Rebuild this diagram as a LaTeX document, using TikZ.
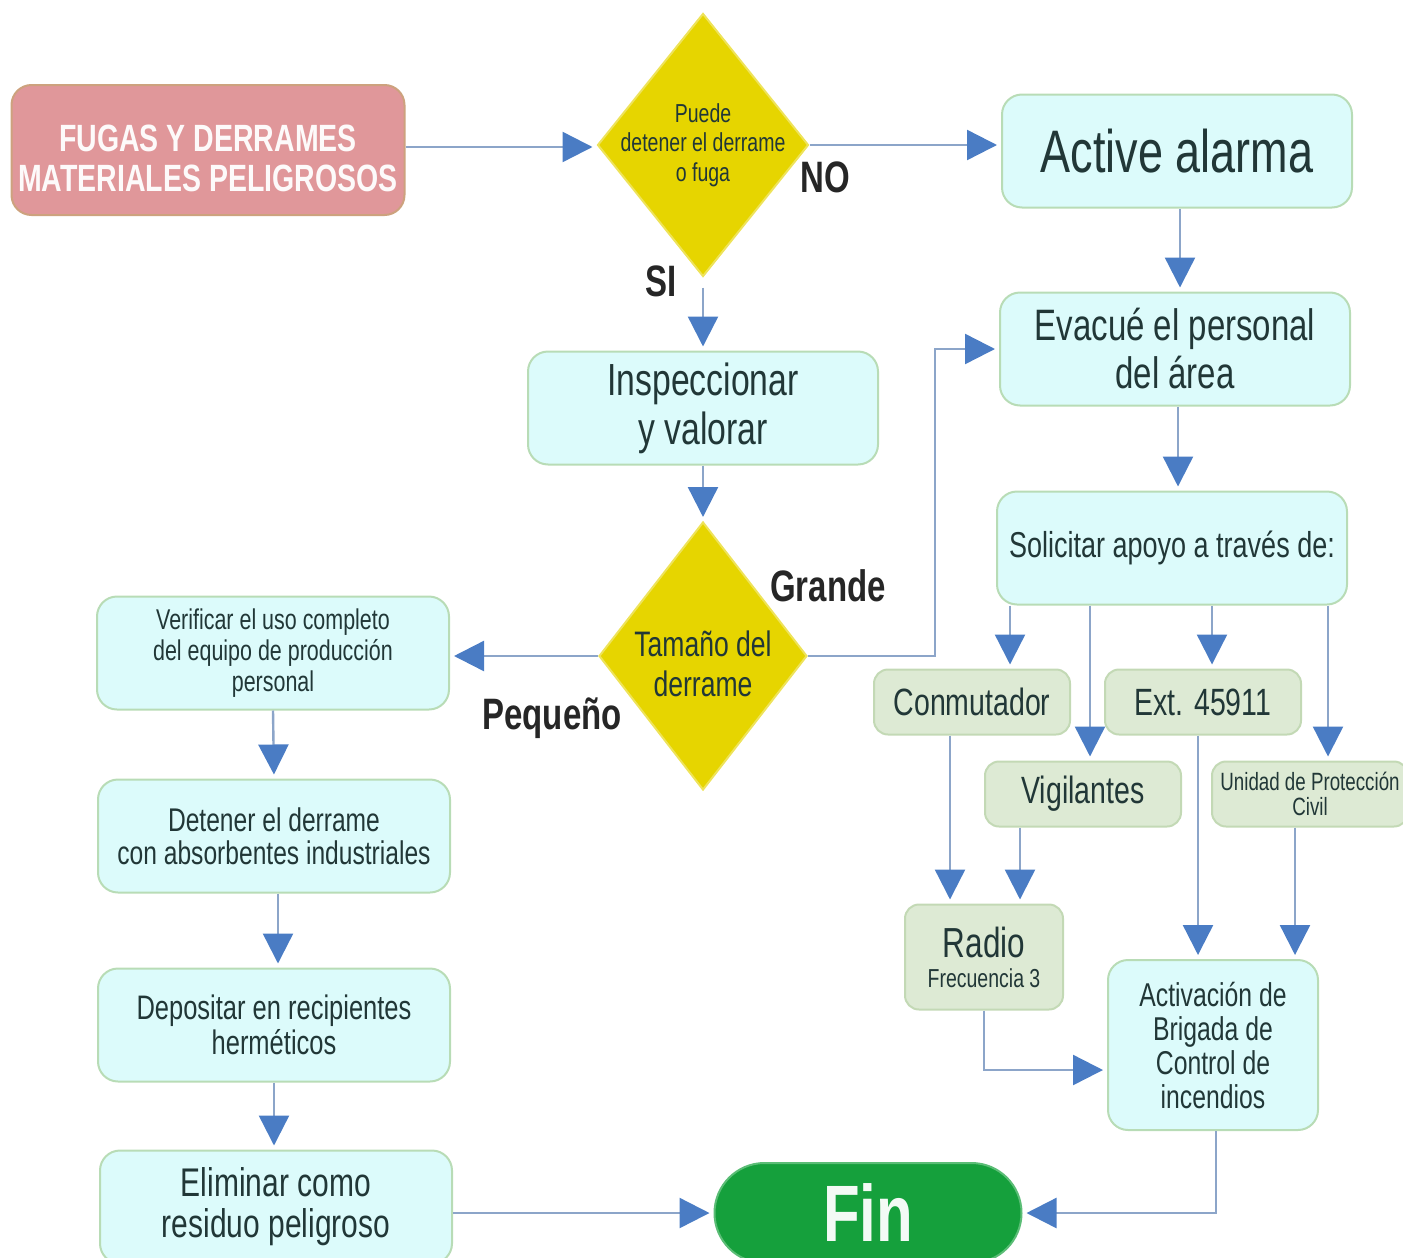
\documentclass[tikz,border=0pt]{standalone}
\usepackage{fontspec}
\setmainfont{Liberation Sans}[FakeStretch=0.75]
\usepackage{xcolor}
\usepackage{tikz}
\usetikzlibrary{shapes.geometric}
\usetikzlibrary{arrows.meta}

\definecolor{fondoAzul}{HTML}{DCFBFB}
\definecolor{bordeAzul}{HTML}{B8DCB6}
\definecolor{fondoVerde}{HTML}{DDEAD4}
\definecolor{bordeVerde}{HTML}{C3D9B5}
\definecolor{amarillo}{HTML}{E6D500}
\definecolor{bordeAmarillo}{HTML}{EEE35A}
\definecolor{rosa}{HTML}{E0979A}
\definecolor{bordeRosa}{HTML}{CDA27E}
\definecolor{verdeFin}{HTML}{15A03C}
\definecolor{linea}{HTML}{8CA5C9}
\definecolor{punta}{HTML}{4A7CC4}
\definecolor{texto}{HTML}{213737}

\newcommand{\tf}[2]{\fontsize{#1}{#2}\selectfont}

\tikzset{
  Caja/.style={draw=bordeAzul, fill=fondoAzul, line width=1pt, rounded corners=10pt,
    minimum width=175pt, minimum height=56.5pt, align=center, text=texto, inner sep=0pt},
  CajaV/.style={Caja, draw=bordeVerde, fill=fondoVerde, rounded corners=7pt,
    minimum width=98pt, minimum height=32.5pt},
  Rombo/.style={diamond, draw=bordeAmarillo, fill=amarillo, line width=1pt, inner sep=0pt},
  Texto/.style={align=center, text=texto, inner sep=0pt},
  Flecha/.style={draw=linea, line width=1.2pt, shorten >=2pt,
    -{Triangle[length=15pt,width=15pt,color=punta]}}, % Pfeil mit blauer Spitze
  Etiq/.style={font=\tf{22}{24}\bfseries, text=black!85}
}

\begin{document}
\begin{tikzpicture}[x=0.5pt, y=-0.5pt]
\useasboundingbox (0,0) rectangle (1403,1258);

%Inicio und Entscheidungen
\node[Caja, draw=bordeRosa, fill=rosa, minimum width=196.5pt, minimum height=65pt]
  (fugas) at (208,150) {};
\node[Texto, text=white!95!rosa, font=\tf{19}{20}\bfseries] (fugasTxt)
  at ([yshift=-4pt]fugas.center) {FUGAS Y DERRAMES\\MATERIALES PELIGROSOS};
\node[Rombo, minimum width=105.5pt, minimum height=131.5pt] (puede) at (703,145) {};
\node[Texto, font=\tf{13}{14.75}] (puedeTxt) at (puede) {Puede\\detener el derrame\\o fuga};
\node[Rombo, minimum width=104pt, minimum height=134pt] (tamano) at (703,656) {};
\node[Texto, font=\tf{17.7}{20}] (tamanoTxt) at ([yshift=-4pt]tamano.center)
  {Tamaño del\\derrame};

%Rama derecha
\node[Caja, font=\tf{30}{32}] (activa) at (1177,151) {Active alarma};
\node[Caja, font=\tf{22}{24}] (evacue) at (1175,349) {Evacué el personal\\del área};
\node[Caja, font=\tf{18}{20}] (solicitar) at (1172,548) {Solicitar apoyo a través de:};
\node[CajaV, font=\tf{19}{20}] (conmutador) at (972,702) {Conmutador};
\node[CajaV, font=\tf{19}{20}] (ext) at (1203,702) {Ext. 45911};
\node[CajaV, font=\tf{19}{20}] (vigilantes) at (1083,794) {Vigilantes};
\node[CajaV, font=\tf{12.5}{12.5}] (unidad) at (1310,794) {Unidad de Protección\\Civil};
\node[CajaV, minimum width=79pt, minimum height=52.5pt, font=\tf{21}{15}]
  (radio) at (984,957) {Radio\\\tf{13}{15}Frecuencia 3};
\node[Caja, minimum width=105pt, minimum height=85pt, font=\tf{16.5}{17}]
  (activacion) at (1213,1045) {Activación de\\Brigada de\\Control de\\incendios};

%Rama izquierda
\node[Caja, font=\tf{22.5}{24.5}] (inspeccionar) at (703,408) {Inspeccionar\\y valorar};
\node[Caja, minimum width=176pt, font=\tf{14.3}{15.3}] (verificar) at (273,653)
  {Verificar el uso completo\\del equipo de producción\\personal};
\node[Caja, minimum width=176pt, font=\tf{16.4}{16.5}] (detener) at (274,836)
  {Detener el derrame\\con absorbentes industriales};
\node[Caja, minimum width=176pt, font=\tf{17}{17.5}] (depositar) at (274,1025)
  {Depositar en recipientes\\herméticos};
\node[Caja, minimum width=176pt, font=\tf{20}{20.5}] (eliminar) at (276,1207)
  {Eliminar como\\residuo peligroso};
\node[Caja, draw=verdeFin!70!white, fill=verdeFin, text=white!95!verdeFin,
  minimum width=153.5pt, minimum height=50pt, rounded corners=25pt,
  font=\tf{40}{40}\bfseries] (fin) at (868,1213) {Fin};

%Etiquetas
\node[Etiq] (no) at (825,177) {NO};
\node[Etiq] (si) at (661,281) {SI};
\node[Etiq] (grande) at (828,586) {Grande};
\node[Etiq] (pequeno) at (552,718) {Pequeño};

%Pfeile
\coordinate (codoG) at (935,656);
\draw[Flecha] ([yshift=1.5pt]fugas.east) -- ([yshift=1.5pt]fugas.east -| puede.west);
\draw[Flecha] (puede.east) -- (puede.east -| activa.west);
\draw[Flecha] ([yshift=-5pt]puede.south) -- (inspeccionar.north);
\draw[Flecha] ([xshift=1.5pt]activa.south) -- ([xshift=1.5pt]activa.south |- evacue.north);
\draw[Flecha] ([xshift=1.5pt]evacue.south) -- ([xshift=1.5pt]evacue.south |- solicitar.north);
\draw[Flecha] (inspeccionar.south) -- (tamano.north);
\draw[Flecha] (tamano.west) -- (verificar.east |- tamano.west);
\draw[Flecha] (tamano.east) -- (codoG) |- (evacue.west);

\draw[Flecha] ([xshift=19pt]conmutador.north |- solicitar.south) -- ([xshift=19pt]conmutador.north);
\draw[Flecha] ([xshift=3.5pt]vigilantes.north |- solicitar.south) -- ([xshift=3.5pt]vigilantes.north);
\draw[Flecha] ([xshift=4.5pt]ext.north |- solicitar.south) -- ([xshift=4.5pt]ext.north);
\draw[Flecha] ([xshift=9pt]unidad.north |- solicitar.south) -- ([xshift=9pt]unidad.north);

\draw[Flecha] ([xshift=-11pt]conmutador.south) -- ([xshift=-11pt]conmutador.south |- radio.north);
\draw[Flecha] ([xshift=-31.5pt]vigilantes.south) -- ([xshift=-31.5pt]vigilantes.south |- radio.north);
\draw[Flecha] ([xshift=-2.5pt]ext.south) -- ([xshift=-2.5pt]ext.south |- activacion.north);
\draw[Flecha] ([xshift=-7.5pt]unidad.south) -- ([xshift=-7.5pt]unidad.south |- activacion.north);
\draw[Flecha] (radio.south) |- ([yshift=-12.5pt]activacion.west);
\draw[Flecha] ([xshift=1.5pt]activacion.south) |- (fin.east);

\draw[Flecha] (verificar.south) -- (detener.north);
\draw[Flecha] ([xshift=2pt]detener.south) -- ([xshift=2pt]detener.south |- depositar.north);
\draw[Flecha] (depositar.south) -- (depositar.south |- eliminar.north);
\draw[Flecha] (eliminar.east |- fin.west) -- (fin.west);

\end{tikzpicture}
\end{document}
